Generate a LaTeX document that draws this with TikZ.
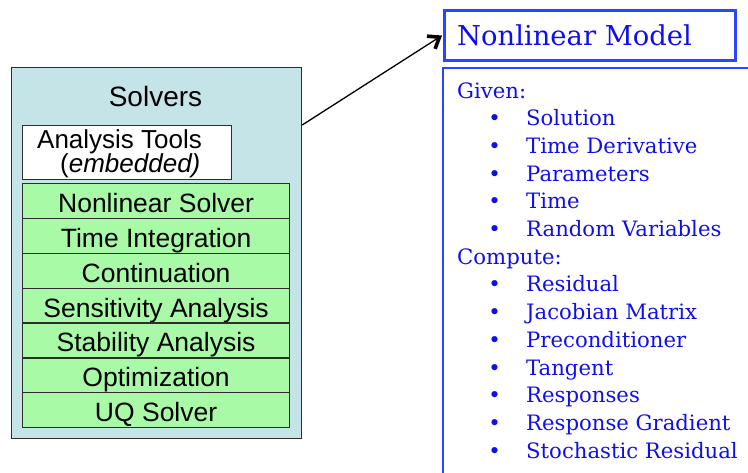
\documentclass[tikz,border=0pt]{standalone}
\usepackage{fontspec}
\setmainfont{Liberation Sans}
\newfontfamily\modelfont{DejaVu Serif}
\usetikzlibrary{arrows.meta}
\definecolor{panelfill}{RGB}{197,228,231}
\definecolor{rowfill}{RGB}{168,250,166}
\definecolor{edgegray}{RGB}{45,45,45}
\definecolor{modelblue}{RGB}{15,15,235}
\definecolor{frameblue}{RGB}{40,70,255}
\begin{document}
\begin{tikzpicture}[x=1pt,y=-1pt,
  panel/.style={draw=edgegray, line width=1.2pt, fill=panelfill, inner sep=0pt, anchor=north west},
  toolbox/.style={draw=edgegray, line width=1.2pt, fill=white, inner sep=0pt, anchor=north west},
  stage/.style={draw=edgegray, line width=1.2pt, fill=rowfill, minimum width=267pt,
    minimum height=34.86pt, inner sep=0pt, text height=23pt, text depth=0pt,
    anchor=north west, font=\fontsize{26.5}{28}\selectfont},
  label/.style={inner sep=0pt, font=\fontsize{26}{28}\selectfont},
  modelbox/.style={draw=frameblue, line width=3pt, inner sep=0pt, anchor=north west},
  spechead/.style={inner sep=0pt, anchor=base west, text=modelblue,
    font=\modelfont\fontsize{21.2}{24}\selectfont},
  specitem/.style={spechead},
  bulletmark/.style={inner sep=0pt, anchor=base, text=modelblue,
    font=\modelfont\fontsize{21.2}{24}\selectfont},
]
\useasboundingbox (0,0) rectangle (748,472);

% solver panel
\node[panel, minimum width=290pt, minimum height=371pt] (solvers) at (11,67) {};
\node[inner sep=0pt, anchor=base, font=\fontsize{28}{30}\selectfont] (title) at (155.5,106) {Solvers};
\node[toolbox, minimum width=209pt, minimum height=54pt] (tools) at (22,125) {};
\node[label, anchor=base west] (toolsA) at (37,148) {Analysis Tools};
\node[label, anchor=base west] (toolsB) at (60,172.5) {(\textit{embedded)}};

\foreach \name [count=\i from 0] in {Nonlinear Solver, Time Integration, Continuation,
    Sensitivity Analysis, Stability Analysis, Optimization, UQ Solver}
  \node[stage] (row\i) at (22,{183+34.86*\i}) {\name};

% model interface
\node[modelbox, minimum width=291pt, minimum height=50pt] (model) at (443,9) {};
\node[inner sep=0pt, anchor=base west, text=modelblue,
  font=\modelfont\fontsize{27.4}{30}\selectfont] (modeltitle) at (457,45) {Nonlinear Model};

\coordinate (specTL) at (443,68);
\draw[frameblue, line width=2pt] (443,474) -- (specTL) -- (750,68);

\node[spechead] (given) at (457,98) {Given:};
\node[spechead] (compute) at (457,{98+27.7*6}) {Compute:};
\foreach \txt/\r in {Solution/1, Time Derivative/2, Parameters/3, Time/4,
    Random Variables/5, Residual/7, Jacobian Matrix/8, Preconditioner/9,
    Tangent/10, Responses/11, Response Gradient/12, Stochastic Residual/13} {
  \node[bulletmark] (dot\r) at (494.5,{98+27.7*\r}) {•};
  \node[specitem] (item\r) at (526,{98+27.7*\r}) {\txt};
}

% link from the solvers to the model
\draw[line width=1.3pt, -{Straight Barb[length=10pt, width=15pt, line width=3.6pt]}]
  (solvers.east |- tools.north) -- ([xshift=-1pt]model.west);
\end{tikzpicture}
\end{document}
